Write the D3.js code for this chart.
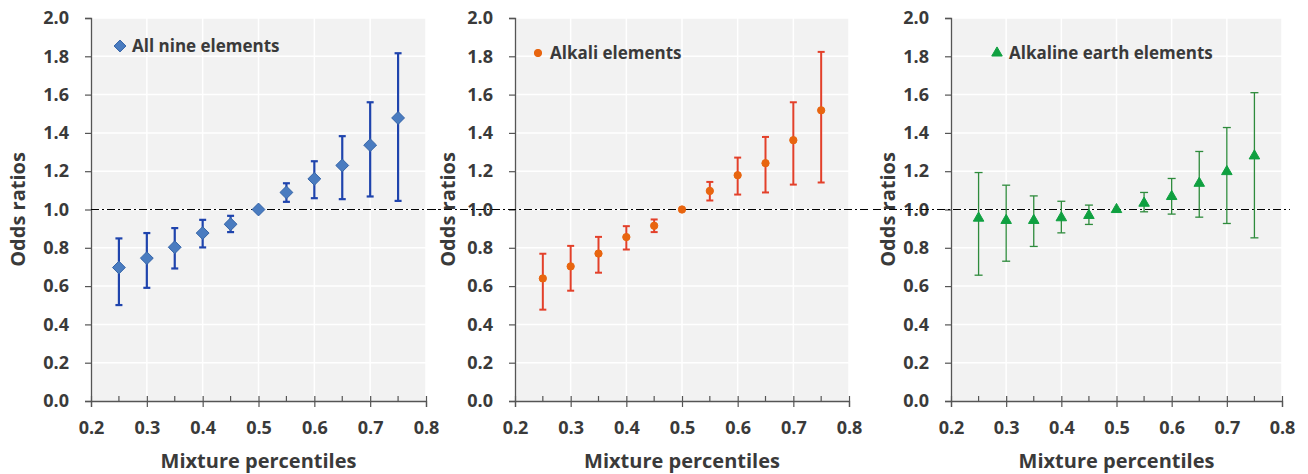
<!DOCTYPE html>
<html>
<head>
<meta charset="utf-8">
<script src="https://cdn.jsdelivr.net/npm/d3@7/dist/d3.min.js"></script>
<style>
  body { margin: 0; background: #fff; }
  text { font-family: "Open Sans", sans-serif; font-weight: 700; fill: #3a3a3a; }
</style>
</head>
<body>
<div id="plot"></div>
<script>
// data
const percentiles = [0.25, 0.30, 0.35, 0.40, 0.45, 0.50, 0.55, 0.60, 0.65, 0.70, 0.75];

const allNineOR    = [0.697, 0.746, 0.803, 0.877, 0.923, 1.000, 1.089, 1.160, 1.230, 1.336, 1.478];
const allNineLow   = [0.501, 0.591, 0.692, 0.802, 0.882, 1.000, 1.040, 1.059, 1.054, 1.068, 1.045];
const allNineHigh  = [0.849, 0.877, 0.903, 0.946, 0.967, 1.000, 1.137, 1.252, 1.383, 1.560, 1.816];

const alkaliOR     = [0.640, 0.703, 0.770, 0.856, 0.915, 1.000, 1.097, 1.179, 1.242, 1.362, 1.518];
const alkaliLow    = [0.477, 0.576, 0.670, 0.791, 0.882, 1.000, 1.047, 1.078, 1.089, 1.130, 1.141];
const alkaliHigh   = [0.769, 0.810, 0.857, 0.913, 0.948, 1.000, 1.144, 1.271, 1.379, 1.560, 1.823];

const earthOR      = [0.955, 0.943, 0.943, 0.957, 0.969, 1.000, 1.033, 1.068, 1.137, 1.198, 1.280];
const earthLow     = [0.657, 0.730, 0.807, 0.878, 0.922, 1.000, 0.988, 0.976, 0.960, 0.927, 0.852];
const earthHigh    = [1.193, 1.127, 1.071, 1.043, 1.023, 1.000, 1.089, 1.162, 1.303, 1.428, 1.610];

const xTicks = [0.2, 0.3, 0.4, 0.5, 0.6, 0.7, 0.8];
const xMinorTicks = [0.25, 0.35, 0.45, 0.55, 0.65, 0.75];
const yTicks = [0.0, 0.2, 0.4, 0.6, 0.8, 1.0, 1.2, 1.4, 1.6, 1.8, 2.0];
const xTitle = "Mixture percentiles";
const yTitle = "Odds ratios";

// panels: layout + styling
const panels = [
  { name: "All nine elements", or: allNineOR, lo: allNineLow, hi: allNineHigh,
    left: 91, right: 426, yLabelX: 18, refLine: [91, 442],
    legend: [120, 46], symbol: d3.symbolDiamond2, size: 105,
    fill: "#4a7cc0", stroke: "#3564a8", bar: "#1f44ad", barW: 2.2, cap: 7 },
  { name: "Alkali elements", or: alkaliOR, lo: alkaliLow, hi: alkaliHigh,
    left: 515, right: 849, yLabelX: 448, refLine: [428, 870],
    legend: [538, 53], symbol: d3.symbolCircle, size: 42,
    fill: "#e8650f", stroke: "#e8650f", bar: "#e3402a", barW: 2, cap: 7 },
  { name: "Alkaline earth elements", or: earthOR, lo: earthLow, hi: earthHigh,
    left: 951, right: 1282, yLabelX: 888, refLine: [873, 1290],
    legend: [997, 53], symbol: d3.symbolTriangle, size: 48,
    fill: "#0fa040", stroke: "#0fa040", bar: "#2e8b3c", barW: 1.3, cap: 8 }
];

const plotTop = 18, plotBottom = 401;

const svg = d3.select("#plot").append("svg")
  .attr("width", 1308)
  .attr("height", 474);

const y = d3.scaleLinear().domain([0, 2]).range([plotBottom, plotTop]);

panels.forEach(p => {
  const x = d3.scaleLinear().domain([0.2, 0.8]).range([p.left, p.right]);
  const g = svg.append("g");

  // plot background
  g.append("rect")
    .attr("x", p.left).attr("y", plotTop)
    .attr("width", p.right - p.left).attr("height", plotBottom - plotTop)
    .attr("fill", "#f2f2f2");

  // gridlines
  g.selectAll(".hgrid").data(yTicks.filter(t => t > 0))
    .enter().append("line")
      .attr("x1", p.left).attr("x2", p.right)
      .attr("y1", d => y(d)).attr("y2", d => y(d))
      .attr("stroke", "#fff").attr("stroke-width", 1.5);
  g.selectAll(".vgrid").data(xTicks.filter(t => t > 0.2))
    .enter().append("line")
      .attr("x1", d => x(d)).attr("x2", d => x(d))
      .attr("y1", plotTop).attr("y2", plotBottom)
      .attr("stroke", "#fff").attr("stroke-width", 1.5);

  // axes
  const yAxis = g.append("g")
    .attr("transform", `translate(${p.left},0)`)
    .call(d3.axisLeft(y).tickValues(yTicks).tickFormat(d3.format(".1f")).tickSize(6).tickPadding(16));
  const xAxis = g.append("g")
    .attr("transform", `translate(0,${plotBottom})`)
    .call(d3.axisBottom(x).tickValues(xTicks).tickFormat(d3.format(".1f")).tickSize(6).tickPadding(14));
  // major x ticks cross the axis
  xAxis.selectAll(".tick line").attr("y1", -5);
  // minor x ticks inside
  g.selectAll(".minor").data(xMinorTicks)
    .enter().append("line")
      .attr("x1", d => x(d)).attr("x2", d => x(d))
      .attr("y1", plotBottom - 5).attr("y2", plotBottom)
      .attr("stroke", "#555").attr("stroke-width", 1.2);

  [xAxis, yAxis].forEach(a => {
    a.select(".domain").attr("stroke", "#555").attr("stroke-width", 1.3);
    a.selectAll(".tick line").attr("stroke", "#555").attr("stroke-width", 1.2);
    a.selectAll(".tick text")
      .style("font-size", "18px").style("font-family", "'Open Sans', sans-serif")
      .style("font-weight", 700).attr("fill", "#333");
  });

  // axis titles
  g.append("text")
    .attr("x", (p.left + p.right) / 2).attr("y", 468)
    .attr("text-anchor", "middle")
    .style("font-size", "20px")
    .text(xTitle);
  g.append("text")
    .attr("transform", `translate(${p.yLabelX + 7},${y(1.0)}) rotate(-90)`)
    .attr("text-anchor", "middle")
    .style("font-size", "20px")
    .text(yTitle);

  // reference line at OR = 1
  g.append("line")
    .attr("x1", p.refLine[0]).attr("x2", p.refLine[1])
    .attr("y1", y(1)).attr("y2", y(1))
    .attr("stroke", "#000").attr("stroke-width", 1)
    .attr("stroke-dasharray", "8,3,2,3");

  const rows = percentiles.map((q, i) => ({ q, or: p.or[i], lo: p.lo[i], hi: p.hi[i] }))
    .filter(d => d.hi > d.lo);

  // error bars
  g.selectAll(".err").data(rows).enter().append("line")
    .attr("x1", d => x(d.q)).attr("x2", d => x(d.q))
    .attr("y1", d => y(d.lo)).attr("y2", d => y(d.hi))
    .attr("stroke", p.bar).attr("stroke-width", p.barW);
  ["lo", "hi"].forEach(k => {
    g.selectAll(".cap-" + k).data(rows).enter().append("line")
      .attr("x1", d => x(d.q) - p.cap / 2).attr("x2", d => x(d.q) + p.cap / 2)
      .attr("y1", d => y(d[k])).attr("y2", d => y(d[k]))
      .attr("stroke", p.bar).attr("stroke-width", p.barW);
  });

  // markers
  const sym = d3.symbol().type(p.symbol).size(p.size);
  const all = percentiles.map((q, i) => ({ q, or: p.or[i] }));
  g.selectAll(".pt").data(all).enter().append("path")
    .attr("d", sym)
    .attr("transform", d => `translate(${x(d.q)},${y(d.or)})`)
    .attr("fill", p.fill).attr("stroke", p.stroke).attr("stroke-width", 1);

  // legend
  g.append("path")
    .attr("d", p.symbol === d3.symbolDiamond2 ? d3.symbol().type(p.symbol).size(90)() : sym())
    .attr("transform", `translate(${p.legend[0]},${p.legend[1]})`)
    .attr("fill", p.fill).attr("stroke", p.stroke).attr("stroke-width", 1);
  g.append("text")
    .attr("x", p.legend[0] + 12).attr("y", p.legend[1] + 6)
    .style("font-size", "17px")
    .text(p.name);
});
</script>
</body>
</html>
